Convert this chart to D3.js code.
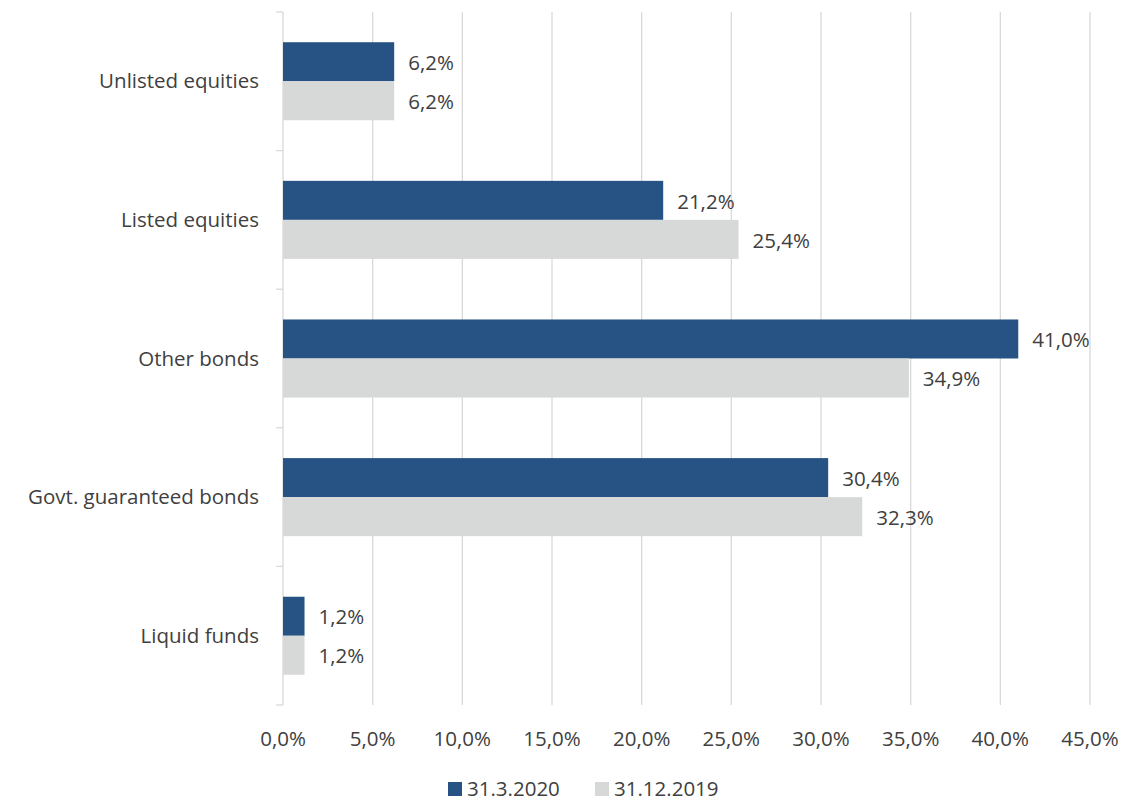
<!DOCTYPE html>
<html>
<head>
<meta charset="utf-8">
<script src="https://cdn.jsdelivr.net/npm/d3@7"></script>
<style>
  body { margin: 0; background: #fff; }
  svg text { font-family: "Open Sans", "Noto Sans", sans-serif; fill: #404040; font-size: 20.5px; }
</style>
</head>
<body>
<svg id="chart"></svg>
<script>
// data
var categories = ["Unlisted equities", "Listed equities", "Other bonds", "Govt. guaranteed bonds", "Liquid funds"];
var seriesNames = ["31.3.2020", "31.12.2019"];
var mar2020 = [6.2, 21.2, 41.0, 30.4, 1.2];
var dec2019 = [6.2, 25.4, 34.9, 32.3, 1.2];
var xTicks = [0, 5, 10, 15, 20, 25, 30, 35, 40, 45];
var colors = ["#265284", "#d7d8d8"];

var width = 1147, height = 802;
var margin = {left: 283, right: 57, top: 12, bottom: 97};

var svg = d3.select("#chart")
    .attr("width", width)
    .attr("height", height);

var g = svg.append("g")
    .attr("transform", "translate(" + margin.left + "," + margin.top + ")");

var w = width - margin.left - margin.right,
    h = height - margin.top - margin.bottom;

var x = d3.scaleLinear().domain([0, 45]).range([0, w]);
var y = d3.scaleBand().domain(categories).range([0, h]).paddingInner(0.437).paddingOuter(0.218);
var y1 = d3.scaleBand().domain(seriesNames).range([0, y.bandwidth()]);

var fmt = function(v) { return v.toFixed(1).replace(".", ",") + "%"; };

// vertical grid
g.append("g")
  .selectAll("line")
  .data(xTicks.slice(1))
  .enter().append("line")
    .attr("x1", d => x(d)).attr("x2", d => x(d))
    .attr("y1", 0).attr("y2", h)
    .attr("stroke", "#d9d9d9").attr("stroke-width", 1.3);

// y axis line and band ticks
var step = h / categories.length;
g.append("line")
    .attr("x1", 0).attr("x2", 0).attr("y1", 0).attr("y2", h)
    .attr("stroke", "#d9d9d9").attr("stroke-width", 1.3);
g.append("g")
  .selectAll("line")
  .data(d3.range(categories.length + 1))
  .enter().append("line")
    .attr("x1", -7).attr("x2", 0)
    .attr("y1", d => d * step).attr("y2", d => d * step)
    .attr("stroke", "#d9d9d9").attr("stroke-width", 1.3);

// category labels
g.append("g")
  .selectAll("text")
  .data(categories)
  .enter().append("text")
    .attr("x", -24)
    .attr("y", d => y(d) + y.bandwidth() / 2)
    .attr("dy", "0.35em")
    .attr("text-anchor", "end")
    .text(d => d);

// x tick labels
g.append("g")
  .selectAll("text")
  .data(xTicks)
  .enter().append("text")
    .attr("x", d => x(d))
    .attr("y", h + 34)
    .attr("dy", "0.35em")
    .attr("text-anchor", "middle")
    .text(d => fmt(d));

// bars
var series = [mar2020, dec2019];
series.forEach(function(vals, si) {
  var sg = g.append("g");
  sg.selectAll("rect")
    .data(categories)
    .enter().append("rect")
      .attr("x", 0)
      .attr("y", d => y(d) + y1(seriesNames[si]))
      .attr("width", (d, i) => x(vals[i]))
      .attr("height", y1.bandwidth())
      .attr("fill", colors[si]);
  sg.selectAll("text")
    .data(categories)
    .enter().append("text")
      .attr("x", (d, i) => x(vals[i]) + 14)
      .attr("y", d => y(d) + y1(seriesNames[si]) + y1.bandwidth() / 2 + 1)
      .attr("dy", "0.35em")
      .text((d, i) => fmt(vals[i]));
});

// legend
var legend = svg.append("g").attr("transform", "translate(448,782)");
var lx = [0, 147];
seriesNames.forEach(function(s, i) {
  var lg = legend.append("g").attr("transform", "translate(" + lx[i] + ",0)");
  lg.append("rect").attr("width", 14).attr("height", 14).attr("fill", colors[i]);
  lg.append("text").attr("x", 19).attr("y", 7).attr("dy", "0.35em").text(s);
});
</script>
</body>
</html>
